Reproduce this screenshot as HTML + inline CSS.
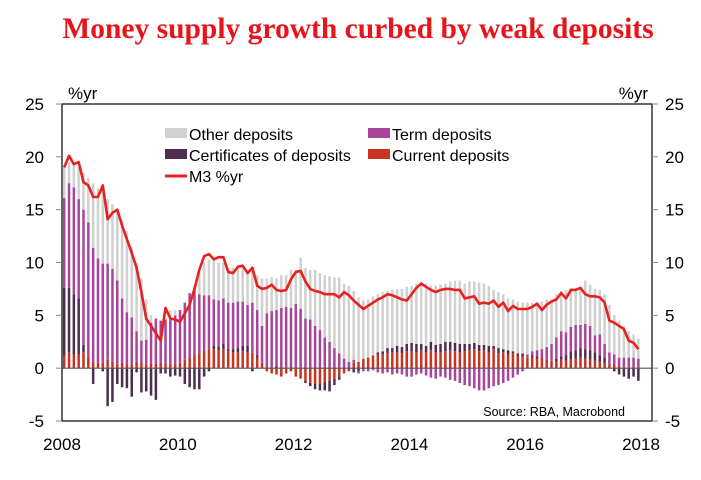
<!DOCTYPE html>
<html><head><meta charset="utf-8"><style>
body{margin:0;background:#fff;}
svg{display:block;font-family:"Liberation Sans",Arial,sans-serif;}
</style></head><body>
<svg id="c" width="701" height="480" viewBox="0 0 701 480">
<text x="358" y="38" text-anchor="middle" font-family="Liberation Serif,serif" font-weight="bold" font-size="29.5" fill="#e8141c">Money supply growth curbed by weak deposits</text>
<g id="bars"></g>
<g id="axes"></g>
<text x="68" y="99" font-size="17">%yr</text>
<text x="648" y="99" font-size="17" text-anchor="end">%yr</text>
<text x="625" y="416" font-size="12.5" text-anchor="end">Source: RBA, Macrobond</text>
<g>
<rect x="165" y="128" width="22" height="10" fill="#d0d0d0"/>
<text x="189" y="140" font-size="16">Other deposits</text>
<rect x="165" y="149" width="22" height="10" fill="#4f2d4f"/>
<text x="189" y="161" font-size="16">Certificates of deposits</text>
<line x1="165" y1="176" x2="187" y2="176" stroke="#e8201e" stroke-width="3"/>
<text x="189" y="182" font-size="16">M3 %yr</text>
<rect x="368" y="128" width="22" height="10" fill="#a8449a"/>
<text x="392" y="140" font-size="16">Term deposits</text>
<rect x="368" y="149" width="22" height="10" fill="#c8321e"/>
<text x="392" y="161" font-size="16">Current deposits</text>
</g>
</svg>
<script>
const m3=[19.0,20.1,19.3,19.5,17.6,17.3,16.2,16.2,17.3,14.1,14.7,15.0,
13.5,12.2,10.9,9.5,7.2,4.7,4.0,3.3,2.6,5.7,4.7,4.6,
4.4,5.2,6.0,7.5,9.3,10.6,10.8,10.3,10.5,10.5,9.1,9.0,
9.6,9.7,9.0,9.5,7.8,7.5,7.6,7.9,7.4,7.3,7.4,8.4,
9.1,9.2,8.2,7.5,7.3,7.2,7.0,7.0,7.0,6.7,7.2,6.9,
6.4,6.0,5.6,5.9,6.2,6.5,6.7,7.0,6.9,6.7,6.5,6.4,
7.0,7.6,8.0,7.7,7.4,7.2,7.4,7.5,7.5,7.4,7.4,6.6,
6.7,6.8,6.1,6.2,6.1,6.4,5.8,6.2,5.4,5.9,5.6,5.6,
5.6,5.8,6.1,5.5,6.0,6.3,6.5,7.1,6.6,7.4,7.4,7.6,
7.0,6.8,6.8,6.7,6.2,4.5,4.3,4.0,3.7,2.6,2.4,1.8];
const current=[1.2,1.5,1.3,1.3,1.5,1.0,0.6,0.5,0.5,0.8,0.6,0.4,
0.5,0.3,0.3,0.6,0.5,0.3,0.4,0.4,0.5,0.4,0.4,0.3,
0.5,0.8,1.0,1.2,1.4,1.7,1.8,1.8,1.7,1.8,1.6,1.5,
1.5,1.6,1.5,1.5,1.0,0.5,-0.3,-0.5,-0.6,-0.8,-0.5,-0.3,
-0.8,-1.0,-1.2,-1.4,-1.5,-1.5,-1.3,-1.2,-1.0,-0.8,-0.5,-0.3,
0.5,0.6,0.9,1.0,1.2,1.3,1.3,1.4,1.5,1.5,1.4,1.6,
1.6,1.5,1.7,1.5,1.7,1.5,1.5,1.6,1.7,1.6,1.5,1.6,
1.7,1.8,1.6,1.7,1.5,1.8,1.4,1.5,1.3,1.4,1.2,1.1,
1.0,1.0,0.9,1.0,0.8,0.7,0.6,0.8,0.7,0.8,0.9,1.0,
0.9,0.8,0.7,0.6,0.5,0.3,0.3,0.2,0.1,0.1,0.1,0.1];
const cert=[6.4,6.1,5.7,5.3,0.7,0,-1.5,0,-0.3,-3.6,-3.2,-1.5,
-1.8,-1.9,-2.7,-0.4,-2.3,-2.2,-2.6,-3.0,-0.5,-0.5,-0.8,-0.7,
-0.8,-1.5,-1.8,-2.0,-2.0,-0.8,-0.3,0.3,0.3,0.5,0.2,0.3,
0.4,0.5,0.6,-0.3,0.2,0,0,0,0.2,0,0,0,
0,0,-0.2,-0.3,-0.5,-0.6,-0.8,-1.0,-0.6,-0.3,0,0,
-0.4,-0.3,0,0,0,0.2,0.3,0.5,0.4,0.6,0.6,0.7,
0.8,0.8,0.6,0.6,0.8,0.7,0.8,0.9,0.8,0.8,0.8,0.7,
0.6,0.6,0.6,0.5,0.6,0.3,0.5,0.3,0.4,0.2,0.2,0.3,
0,0.2,0.2,0,0,0,0.3,0.3,0.5,0.8,0.8,0.9,
0.9,0.9,0.8,0.6,0.5,0,-0.3,-0.6,-0.8,-1.0,-0.8,-1.2];
const term=[8.5,9.9,10.1,9.4,12.8,12.8,10.8,9.9,9.4,9.1,8.8,7.9,
6.1,5.0,4.5,2.9,2.1,2.4,3.9,4.3,4.0,4.2,4.3,4.7,
5.0,5.4,6.1,6.4,5.6,5.2,5.1,4.4,4.4,4.3,4.4,4.4,
4.4,4.2,3.9,4.7,4.3,3.5,5.2,5.4,5.3,5.7,5.8,5.7,
6.1,5.6,4.7,4.6,4.0,3.6,2.9,2.5,1.9,1.4,0.9,0.6,
0.3,-0.2,-0.3,-0.3,-0.2,-0.4,-0.5,-0.4,-0.6,-0.5,-0.6,-0.8,
-0.8,-0.6,-0.5,-0.7,-0.9,-1.0,-0.8,-0.9,-1.1,-1.2,-1.4,-1.6,
-1.7,-1.9,-2.1,-2.1,-1.9,-1.7,-1.6,-1.4,-1.2,-0.9,-0.6,-0.3,
0.3,0.4,0.6,0.8,1.2,1.6,2.0,2.4,2.2,2.3,2.4,2.2,
2.4,2.3,1.6,2.0,1.3,1.2,1.0,0.8,0.9,0.9,0.9,0.8];
const other=[2.9,2.0,2.4,3.0,3.5,4.2,6.1,6.6,7.1,6.1,6.1,6.7,
7.4,7.7,6.7,6.5,5.9,3.8,0.7,0,0,0,0.8,0.5,
0,0,0,0.1,2.0,3.1,3.4,3.7,3.6,3.4,3.3,3.3,
3.2,3.2,3.0,3.3,3.3,4.5,3.3,3.2,3.0,3.1,3.0,3.6,
3.2,4.9,4.8,4.7,5.3,5.4,5.9,6.2,6.7,7.2,7.1,7.2,
6.5,6.1,5.5,5.5,5.6,5.5,5.6,5.4,5.5,5.4,5.5,5.4,
5.4,5.7,5.9,5.9,5.3,5.6,5.6,5.5,5.7,5.9,6.0,5.7,
5.9,5.8,5.9,5.8,5.7,5.3,5.3,5.2,4.9,4.9,4.9,4.8,
4.9,4.6,4.5,4.5,4.5,4.2,4.1,3.8,4.0,3.6,3.5,3.6,
4.1,3.9,4.4,4.2,4.7,4.5,3.7,3.5,3.0,2.5,2.2,1.9];
const yTicks=[25,20,15,10,5,0,-5];
const xYears=[2008,2010,2012,2014,2016,2018];

const NS='http://www.w3.org/2000/svg';
const L=62,R=652,T=104,B=421,ymin=-5,ymax=25,x0=L,pxYear=57.9;
const y=v=>B-(v-ymin)/(ymax-ymin)*(B-T);
const xm=i=>x0+pxYear*(i/12)+2.2;
const xy=yr=>x0+pxYear*(yr-2008);
function mk(tag,a,parent){const e=document.createElementNS(NS,tag);for(const k in a)e.setAttribute(k,a[k]);parent.appendChild(e);return e;}
const bars=document.getElementById('bars'),axes=document.getElementById('axes');
const series=[['current',current,'#c8321e'],['cert',cert,'#4f2d4f'],['term',term,'#a8449a'],['other',other,'#d0d0d0']];
for(let i=0;i<m3.length;i++){
  let pos=0,neg=0;
  for(const [nm,arr,col] of series){
    const v=arr[i];if(!v)continue;
    let a,b;
    if(v>0){a=pos;b=pos+v;pos=b;}else{a=neg;b=neg+v;neg=b;}
    const r=mk('rect',{x:(xm(i)-1.25).toFixed(2),y:y(Math.max(a,b)).toFixed(2),width:2.5,height:Math.abs(y(a)-y(b)).toFixed(2),fill:col},bars);
    
    
  }
}
const z=mk('line',{x1:L,x2:R,y1:y(0),y2:y(0),stroke:'#555','stroke-width':1.2},axes);


const pl=mk('polyline',{points:m3.map((v,i)=>xm(i).toFixed(2)+','+y(v).toFixed(2)).join(' '),fill:'none',stroke:'#e8201e','stroke-width':2.6,'stroke-linejoin':'round'},axes);


const fr=mk('rect',{x:L,y:T,width:R-L,height:B-T,fill:'none',stroke:'#000','stroke-width':1.2},axes);


for(const t of yTicks){
  const yy=y(t);
  const a=mk('line',{x1:L-6,x2:L,y1:yy,y2:yy,stroke:'#888','stroke-width':1},axes);
  
  
  const b=mk('line',{x1:R,x2:R+6,y1:yy,y2:yy,stroke:'#888','stroke-width':1},axes);
  
  
  const tl=mk('text',{x:44,y:yy+6,'text-anchor':'end','font-size':17},axes);tl.textContent=t;
  
  
  const tr=mk('text',{x:665,y:yy+6,'font-size':17},axes);tr.textContent=t;
  
  
}
for(const yr of xYears){
  const t=mk('text',{x:xy(yr),y:450,'text-anchor':'middle','font-size':17},axes);t.textContent=yr;
  
  
}
</script>
</body></html>
